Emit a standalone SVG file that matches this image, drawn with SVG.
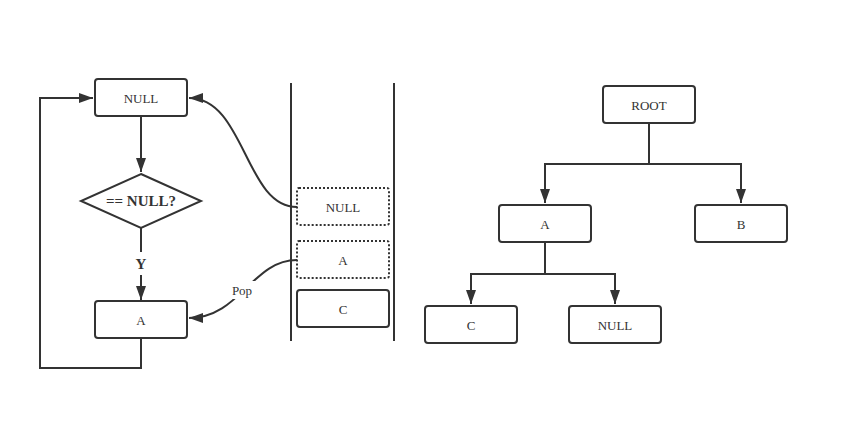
<svg xmlns="http://www.w3.org/2000/svg" width="868" height="435" viewBox="0 0 868 435">
<defs>
<style>
.box{fill:#fff;stroke:#333;stroke-width:2}
.dot{fill:#fff;stroke:#333;stroke-width:2;stroke-dasharray:2 2}
.t{font-family:"Liberation Serif",serif;font-size:13px;fill:#333;text-anchor:middle;dominant-baseline:central}
.b{font-weight:bold;font-size:15px}
.e{fill:none;stroke:#333;stroke-width:2}
</style>
<marker id="ah" viewBox="0 0 10 10" refX="9" refY="5" markerWidth="7" markerHeight="7" markerUnits="userSpaceOnUse" orient="auto" overflow="visible">
<path d="M0,0 L10,5 L0,10 Z" fill="#333" transform="scale(1.4) translate(-3.6,-1.4)"/>
</marker>
<marker id="a" viewBox="0 0 14 10" refX="14" refY="5" markerWidth="14" markerHeight="10" markerUnits="userSpaceOnUse" orient="auto">
<path d="M0,0 L14,5 L0,10 Z" fill="#333"/>
</marker>
</defs>
<rect width="868" height="435" fill="#fff"/>
<g id="connectors">
<path class="e" d="M141,117 V172" marker-end="url(#a)"/>
<path class="e" d="M141,228 V252"/>
<path class="e" d="M141,275 V300" marker-end="url(#a)"/>
<path class="e" d="M141,339 V368 H40 V98 H93" marker-end="url(#a)"/>
<path class="e" d="M297,207 C245,207 245,98 189,98" marker-end="url(#a)"/>
<path class="e" d="M297,260 C252,260 240,318 189,318" marker-end="url(#a)"/>
<path class="e" d="M649,124 V164 H545 V203" marker-end="url(#a)"/>
<path class="e" d="M649,164 H741 V203" marker-end="url(#a)"/>
<path class="e" d="M545,243 V274 H471 V304" marker-end="url(#a)"/>
<path class="e" d="M545,274 H615 V304" marker-end="url(#a)"/>
<path class="e" d="M291,83 V341 M394,83 V341"/>
</g>
<g id="lbl-y"><text class="t b" x="141" y="264">Y</text></g>
<g id="lbl-pop"><rect x="229" y="281" width="26" height="18" fill="#fff"/><text class="t" x="242" y="290">Pop</text></g>
<g id="n-null"><rect class="box" x="95" y="79" width="92" height="37" rx="3"/><text class="t" x="141" y="98">NULL</text></g>
<g id="n-cond"><path class="box" d="M141,174 L201,201 L141,228 L81,201 Z"/><text class="t b" x="141" y="201">== NULL?</text></g>
<g id="n-a"><rect class="box" x="95" y="301" width="92" height="37" rx="3"/><text class="t" x="141" y="320">A</text></g>
<g id="s-null"><rect class="dot" x="297" y="188" width="92" height="37" rx="2"/><text class="t" x="343" y="207">NULL</text></g>
<g id="s-a"><rect class="dot" x="297" y="241" width="92" height="37" rx="2"/><text class="t" x="343" y="260">A</text></g>
<g id="s-c"><rect class="box" x="297" y="290" width="92" height="37" rx="3"/><text class="t" x="343" y="309">C</text></g>
<g id="t-root"><rect class="box" x="603" y="86" width="92" height="37" rx="3"/><text class="t" x="649" y="105">ROOT</text></g>
<g id="t-a"><rect class="box" x="499" y="205" width="92" height="37" rx="3"/><text class="t" x="545" y="224">A</text></g>
<g id="t-b"><rect class="box" x="695" y="205" width="92" height="37" rx="3"/><text class="t" x="741" y="224">B</text></g>
<g id="t-c"><rect class="box" x="425" y="306" width="92" height="37" rx="3"/><text class="t" x="471" y="325">C</text></g>
<g id="t-null"><rect class="box" x="569" y="306" width="92" height="37" rx="3"/><text class="t" x="615" y="325">NULL</text></g>
</svg>
